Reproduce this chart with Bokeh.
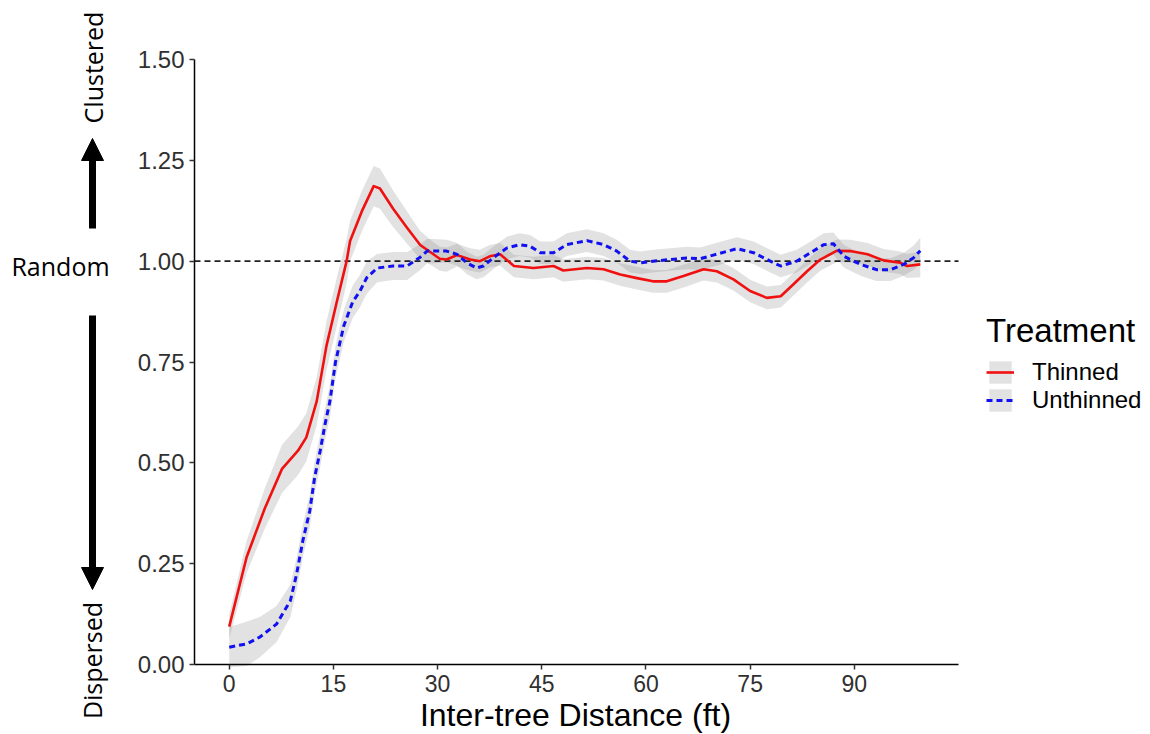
import numpy as np
from bokeh.plotting import figure
from bokeh.models import (ColumnDataSource, Label, Arrow, NormalHead,
                          Legend, LegendItem, Range1d, LinearAxis, FixedTicker)
from bokeh.embed import file_html
from bokeh.resources import INLINE

# ---------------- data ----------------
thin_x = [0, 2.5, 5.1, 7.6, 9.9, 11.1, 12.6, 14.0, 15.5, 16.9, 17.4, 19.1, 20.8, 21.7,
          23.6, 25.6, 27.5, 29.4, 30.3, 31.3, 32.8, 34.7, 36.1, 37.5, 39.0, 41.0, 43.8,
          46.7, 48.1, 51.5, 53.9, 56.3, 58.7, 61.0, 63.0, 65.4, 68.3, 70.2, 72.6, 75.0,
          77.4, 79.4, 81.2, 83.2, 85.1, 87.5, 89.4, 91.9, 94.2, 96.6, 97.6, 99.5]
thin_y = [0.094, 0.266, 0.386, 0.485, 0.53, 0.563, 0.653, 0.79, 0.90, 1.00, 1.05, 1.124,
          1.186, 1.18, 1.13, 1.083, 1.04, 1.017, 1.006, 1.004, 1.015, 1.004, 1.0, 1.012,
          1.017, 0.988, 0.983, 0.988, 0.977, 0.983, 0.98, 0.967, 0.958, 0.95, 0.95, 0.963,
          0.98, 0.975, 0.955, 0.926, 0.909, 0.913, 0.942, 0.975, 1.004, 1.026, 1.025,
          1.017, 1.002, 0.996, 0.988, 0.992]
thin_se = [0.03, 0.04, 0.05, 0.06, 0.06, 0.06, 0.06, 0.06, 0.06, 0.055, 0.05, 0.05,
           0.05, 0.05, 0.045, 0.04, 0.035, 0.03, 0.03, 0.03, 0.028, 0.028, 0.028, 0.028,
           0.028, 0.028, 0.028, 0.028, 0.028, 0.028, 0.028, 0.028, 0.028, 0.028, 0.028,
           0.028, 0.028, 0.028, 0.028, 0.028, 0.028, 0.028, 0.028, 0.028, 0.028, 0.028,
           0.028, 0.028, 0.028, 0.028, 0.03, 0.032]

unthin_x = [0, 2.5, 4.4, 6.8, 8.8, 9.7, 10.6, 11.6, 12.3, 13.1, 13.8, 14.5, 15.3, 16.5,
            17.8, 18.8, 19.8, 21.3, 23.6, 25.6, 27.5, 28.5, 29.4, 31.3, 32.8, 34.2, 35.6,
            36.6, 38.0, 40.0, 41.8, 43.3, 44.8, 46.7, 48.6, 51.5, 53.9, 55.8, 57.7, 59.2,
            61.0, 63.5, 65.9, 67.8, 69.7, 73.1, 75.5, 77.9, 79.4, 81.7, 83.7, 85.6, 87.0,
            88.5, 90.9, 93.2, 95.2, 97.1, 98.5, 99.5]
unthin_y = [0.043, 0.051, 0.068, 0.10, 0.158, 0.224, 0.307, 0.381, 0.464, 0.53, 0.596,
            0.653, 0.75, 0.84, 0.90, 0.925, 0.959, 0.983, 0.988, 0.988, 1.01, 1.025,
            1.025, 1.025, 1.017, 0.996, 0.983, 0.988, 1.008, 1.033, 1.041, 1.037, 1.021,
            1.021, 1.041, 1.051, 1.041, 1.025, 1.0, 0.996, 1.0, 1.004, 1.008, 1.006,
            1.015, 1.031, 1.021, 1.0, 0.988, 1.0, 1.021, 1.041, 1.043, 1.012, 0.992,
            0.979, 0.979, 0.992, 1.008, 1.026]
unthin_se = [0.05, 0.055, 0.05, 0.045, 0.04, 0.04, 0.04, 0.04, 0.04, 0.04, 0.04, 0.04,
             0.04, 0.04, 0.04, 0.04, 0.04, 0.035, 0.035, 0.035, 0.032, 0.03, 0.03, 0.028,
             0.028, 0.028, 0.028, 0.028, 0.028, 0.028, 0.028, 0.028, 0.028, 0.028, 0.028,
             0.028, 0.028, 0.028, 0.028, 0.028, 0.028, 0.028, 0.028, 0.028, 0.028, 0.028,
             0.028, 0.028, 0.028, 0.028, 0.028, 0.028, 0.028, 0.028, 0.028, 0.028, 0.028,
             0.028, 0.03, 0.032]

series_labels = ["Thinned", "Unthinned"]
x_ticks = [0, 15, 30, 45, 60, 75, 90]
y_ticks = [0.0, 0.25, 0.5, 0.75, 1.0, 1.25, 1.5]
y_tick_labels = ["0.00", "0.25", "0.50", "0.75", "1.00", "1.25", "1.50"]
x_title = "Inter-tree Distance (ft)"
legend_title = "Treatment"
reference_level = 1.0

# ---------------- layout geometry (pixels of the 1150x734 page) ----------------
W, H = 1150, 734
L, R, T, B = 194, 958, 59, 664          # panel edges of the plotting area
X0, X1 = -5.0, 105.0                    # visible x extent of the axis
Y0, Y1 = 0.0, 1.5                       # visible y extent of the axis


def dx(px):
    return X0 + (px - L) / (R - L) * (X1 - X0)


def dy(py):
    return Y0 + (B - py) / (B - T) * (Y1 - Y0)


# the frame covers the whole page so that side annotations are not clipped;
# the axes are pinned to the plotting-area edges with fixed_location/bounds
p = figure(width=W, height=H, x_range=Range1d(dx(0), dx(W)),
           y_range=Range1d(dy(H), dy(0)),
           output_backend="svg", toolbar_location=None,
           x_axis_location=None, y_axis_location=None,
           min_border=0, min_border_left=0, min_border_right=0,
           min_border_top=0, min_border_bottom=0)
p.outline_line_color = None
p.xgrid.visible = False
p.ygrid.visible = False
p.background_fill_color = "white"
p.border_fill_color = "white"

tick_font = "Liberation Sans"
xaxis = LinearAxis(fixed_location=Y0, bounds=(X0, X1), ticker=FixedTicker(ticks=x_ticks))
yaxis = LinearAxis(fixed_location=X0, bounds=(Y0, Y1), ticker=FixedTicker(ticks=y_ticks))
yaxis.major_label_overrides = {v: s for v, s in zip(y_ticks, y_tick_labels)}
for ax in (xaxis, yaxis):
    ax.axis_line_color = "black"
    ax.axis_line_width = 1.5
    ax.major_tick_line_color = "#333333"
    ax.major_tick_line_width = 1.5
    ax.major_tick_out = 5
    ax.major_tick_in = 0
    ax.minor_tick_line_color = None
    ax.major_label_text_font = tick_font
    ax.major_label_text_font_size = "23px"
    ax.major_label_text_color = "#303030"
    ax.major_label_standoff = 5
yaxis.major_label_text_font_size = "24px"
p.add_layout(xaxis, "below")
p.add_layout(yaxis, "left")

src_t = ColumnDataSource(dict(x=thin_x, y=thin_y,
                              lo=[a - b for a, b in zip(thin_y, thin_se)],
                              hi=[a + b for a, b in zip(thin_y, thin_se)]))
src_u = ColumnDataSource(dict(x=unthin_x, y=unthin_y,
                              lo=[a - b for a, b in zip(unthin_y, unthin_se)],
                              hi=[a + b for a, b in zip(unthin_y, unthin_se)]))

band_t = p.varea(x="x", y1="lo", y2="hi", source=src_t, fill_color="#8c8c8c",
                 fill_alpha=0.25)
band_u = p.varea(x="x", y1="lo", y2="hi", source=src_u, fill_color="#8c8c8c",
                 fill_alpha=0.25)

# dashed reference line at "random" (spans the plotting area only)
p.line(x=[X0, X1], y=[reference_level, reference_level], line_color="#222222",
       line_width=1.6, line_dash="6 4")

line_t = p.line(x="x", y="y", source=src_t, line_color="#f01010", line_width=2.6,
                line_join="round")
line_u = p.line(x="x", y="y", source=src_u, line_color="#1010f0", line_width=3,
                line_dash="6 4", line_join="round")

legend = Legend(items=[LegendItem(label=series_labels[0], renderers=[band_t, line_t]),
                       LegendItem(label=series_labels[1], renderers=[band_u, line_u])],
                title=legend_title, location=(986, H - 414))
legend.title_text_font = tick_font
legend.title_text_font_size = "33px"
legend.title_text_font_style = "normal"
legend.title_text_color = "black"
legend.title_standoff = 8
legend.label_text_font = tick_font
legend.label_text_font_size = "24px"
legend.label_text_color = "black"
legend.glyph_width = 28
legend.glyph_height = 28
legend.label_height = 28
legend.label_standoff = 18
legend.spacing = 0
legend.padding = 0
legend.margin = 0
legend.border_line_color = None
legend.background_fill_alpha = 0
p.add_layout(legend)

# x axis title
p.add_layout(Label(x=dx(575), y=dy(714), text=x_title, text_align="center",
                   text_baseline="middle", text_font=tick_font,
                   text_font_size="32px", text_color="black"))

# left-side interpretation annotations
side_font = "Open Sans"
p.add_layout(Label(x=dx(92), y=dy(67), text="Clustered", angle=np.pi / 2,
                   text_align="center", text_baseline="middle", text_font=side_font,
                   text_font_size="25px", text_color="black"))
p.add_layout(Label(x=dx(91), y=dy(660), text="Dispersed", angle=np.pi / 2,
                   text_align="center", text_baseline="middle", text_font=side_font,
                   text_font_size="25px", text_color="black"))
p.add_layout(Label(x=dx(60), y=dy(265), text="Random", text_align="center",
                   text_baseline="middle", text_font=side_font,
                   text_font_size="25px", text_color="black"))

p.add_layout(Arrow(x_start=dx(92), y_start=dy(228), x_end=dx(92), y_end=dy(138),
                   line_width=7, line_color="black",
                   end=NormalHead(size=22, fill_color="black", line_color="black",
                                  line_width=1)))
p.add_layout(Arrow(x_start=dx(92), y_start=dy(315), x_end=dx(92), y_end=dy(589),
                   line_width=7, line_color="black",
                   end=NormalHead(size=22, fill_color="black", line_color="black",
                                  line_width=1)))

open("out.html", "w").write(file_html(p, INLINE))
